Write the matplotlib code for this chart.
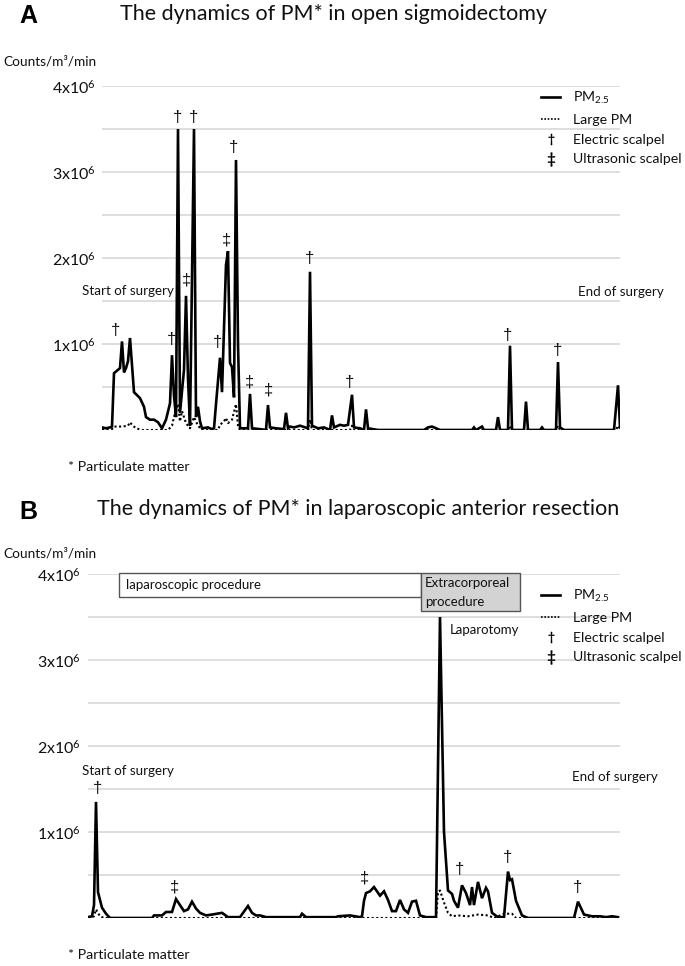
import matplotlib
matplotlib.use('Agg')
import matplotlib.pyplot as plt
import numpy as np
from matplotlib.lines import Line2D
from matplotlib.patches import Rectangle

plt.rcParams['font.family'] = ['Lato', 'DejaVu Sans']
plt.rcParams['mathtext.default'] = 'regular'

# ---------------- Panel A : open sigmoidectomy (values in 10^6 counts/m3/min) ----------------
a_pm25_t = [0, 2, 4, 5, 6, 8, 9, 10, 11, 12, 13, 14, 16, 19, 21, 22, 24, 26, 28, 30,
            32, 34, 35, 36, 37, 38, 39, 41, 42, 43, 44, 46, 47, 48, 49, 50, 53, 55,
            56, 57, 59, 60, 62, 63, 64, 65, 66, 67, 68, 69, 73, 74, 75, 79, 82, 83,
            84, 87, 91, 92, 93, 94, 96, 99, 103, 104, 105, 108, 111, 114, 115, 116,
            119, 121, 123, 125, 126, 129, 131, 132, 133, 138, 161, 163, 165, 167,
            169, 185, 186, 187, 190, 191, 197, 198, 199, 203, 204, 205, 211, 212,
            213, 219, 220, 221, 227, 228, 229, 231, 256, 258, 259]
a_pm25_v = [0.03, 0.02, 0.03, 0.04, 0.66, 0.70, 0.72, 1.03, 0.67, 0.72, 0.80, 1.07,
            0.44, 0.37, 0.27, 0.15, 0.12, 0.12, 0.09, 0.02, 0.12, 0.31, 0.87, 0.40,
            0.15, 3.50, 0.20, 0.70, 1.56, 0.60, 0.05, 3.50, 0.15, 0.27, 0.10, 0.02,
            0.03, 0.01, 0.02, 0.30, 0.84, 0.44, 1.92, 2.08, 0.78, 0.73, 0.38, 3.14,
            1.00, 0.02, 0.02, 0.42, 0.02, 0.01, 0.00, 0.29, 0.03, 0.02, 0.01, 0.20,
            0.02, 0.04, 0.03, 0.05, 0.02, 1.84, 0.05, 0.02, 0.03, 0.00, 0.17, 0.03,
            0.06, 0.05, 0.06, 0.41, 0.03, 0.02, 0.00, 0.24, 0.02, 0.00, 0.00, 0.03,
            0.04, 0.02, 0.00, 0.00, 0.03, 0.00, 0.04, 0.00, 0.00, 0.15, 0.00, 0.00,
            0.98, 0.00, 0.00, 0.33, 0.00, 0.00, 0.03, 0.00, 0.00, 0.79, 0.03, 0.00,
            0.00, 0.52, 0.03]

a_large_t = [0, 5, 6, 10, 13, 14, 15, 17, 20, 33, 35, 37, 38, 39, 40, 42, 44, 46, 47,
             48, 50, 58, 59, 61, 62, 63, 65, 67, 68, 69, 103, 104, 105, 124, 125, 126,
             203, 204, 205, 227, 228, 229, 257, 258, 259]
a_large_v = [0.01, 0.01, 0.04, 0.04, 0.05, 0.09, 0.06, 0.02, 0.00, 0.00, 0.05, 0.25,
             0.30, 0.10, 0.22, 0.08, 0.02, 0.15, 0.10, 0.05, 0.00, 0.00, 0.06, 0.10,
             0.14, 0.08, 0.12, 0.30, 0.05, 0.00, 0.00, 0.12, 0.00, 0.00, 0.05, 0.00,
             0.00, 0.05, 0.00, 0.00, 0.05, 0.00, 0.00, 0.05, 0.02]

# scalpel marks (time, symbol, label height)
a_mark_t = [7, 35, 37.5, 45.5, 42, 62, 57.5, 66, 73.5, 83, 103.5, 124, 203, 227.5]
a_mark_s = ['†', '†', '†', '†', '‡', '‡', '†', '†', '‡', '‡', '†', '†', '†', '†']
a_mark_y = [1.16, 1.05, 3.63, 3.63, 1.74, 2.21, 1.02, 3.28, 0.56, 0.47, 1.99, 0.55, 1.10, 0.93]

# ---------------- Panel B : laparoscopic anterior resection ----------------
b_pm25_t = [0, 2, 3, 4, 5, 7, 9, 11, 32, 33, 37, 39, 42, 44, 48, 50, 52, 54, 56, 59,
            62, 67, 70, 76, 80, 82, 84, 86, 89, 106, 107, 109, 124, 125, 131, 136, 137,
            138, 139, 141, 143, 146, 148, 150, 152, 154, 156, 158, 160, 162, 164, 166,
            169, 174, 176, 178, 180, 182, 183, 185, 187, 189, 191, 192, 193, 195, 197,
            199, 200, 202, 205, 208, 210, 211, 212, 214, 217, 220, 243, 245, 248, 252,
            256, 259, 262, 265]
b_pm25_v = [0.01, 0.02, 0.15, 1.35, 0.30, 0.12, 0.05, 0.00, 0.00, 0.03, 0.03, 0.07,
            0.07, 0.22, 0.08, 0.10, 0.19, 0.11, 0.06, 0.03, 0.04, 0.06, 0.01, 0.01,
            0.14, 0.06, 0.03, 0.03, 0.01, 0.01, 0.05, 0.01, 0.01, 0.02, 0.03, 0.01,
            0.02, 0.20, 0.29, 0.31, 0.36, 0.26, 0.31, 0.21, 0.08, 0.08, 0.21, 0.10,
            0.06, 0.19, 0.20, 0.03, 0.01, 0.01, 3.50, 1.00, 0.32, 0.28, 0.20, 0.12,
            0.38, 0.29, 0.15, 0.36, 0.15, 0.42, 0.23, 0.35, 0.31, 0.06, 0.01, 0.01,
            0.54, 0.44, 0.45, 0.20, 0.03, 0.00, 0.00, 0.19, 0.04, 0.02, 0.02, 0.01,
            0.02, 0.01]

b_large_t = [0, 3, 4, 5, 6, 8, 174, 175, 176, 178, 180, 182, 185, 190, 195, 200, 203,
             208, 212, 214, 265]
b_large_v = [0.00, 0.02, 0.10, 0.06, 0.02, 0.00, 0.00, 0.30, 0.32, 0.18, 0.06, 0.02,
             0.03, 0.02, 0.04, 0.03, 0.00, 0.05, 0.05, 0.00, 0.00]

b_mark_t = [4.5, 43, 138, 186, 209.5, 244.5]
b_mark_s = ['†', '‡', '‡', '†', '†', '†']
b_mark_y = [1.50, 0.36, 0.47, 0.56, 0.70, 0.36]

y_ticks = [1, 2, 3, 4]
y_tick_labels = ['1x10$^6$', '2x10$^6$', '3x10$^6$', '4x10$^6$']
legend_labels = ['PM$_{2.5}$', 'Large PM', 'Electric scalpel', 'Ultrasonic scalpel']

W, H = 685, 966
fig = plt.figure(figsize=(W / 100, H / 100), dpi=100)


def fx(px):
    return px / W


def fy(py):
    return 1 - py / H


TXT = '#111111'
GRID = '#d4d4d4'
MARKFONT = ['Liberation Sans', 'DejaVu Sans']


def setup_axes(ax, tmax, pad):
    ax.set_xlim(0, tmax)
    ax.set_ylim(0, 4)
    ax.set_yticks(y_ticks)
    ax.set_yticklabels(y_tick_labels, fontsize=11.5, color=TXT)
    ax.set_yticks(np.arange(0.5, 4.01, 0.5), minor=True)
    ax.yaxis.grid(True, which='both', color=GRID, linewidth=1.1)
    ax.set_axisbelow(True)
    ax.tick_params(axis='y', which='both', length=0, pad=pad)
    ax.set_xticks([])
    for s in ax.spines.values():
        s.set_visible(False)


def draw_series(ax, t1, v1, t2, v2):
    ax.plot(t1, v1, color='black', lw=1.9, solid_joinstyle='miter', zorder=3)
    ax.plot(t2, v2, color='black', lw=1.5, linestyle=(0, (1, 1.2)), zorder=2)


def legend(ax, x, y):
    handles = [Line2D([], [], color='black', lw=1.9),
               Line2D([], [], color='black', lw=1.2, linestyle=(0, (1, 1))),
               Line2D([], [], color='black', marker=r'$\dagger$', markersize=8,
                      markeredgewidth=0.3, linestyle='None'),
               Line2D([], [], color='black', marker=r'$\ddagger$', markersize=10,
                      markeredgewidth=0.3, linestyle='None')]
    fig.legend(handles, legend_labels, loc='upper left', bbox_to_anchor=(fx(x), fy(y)),
               frameon=False, borderpad=0, borderaxespad=0, fontsize=10.2,
               handlelength=1.35, handletextpad=0.9, labelspacing=0.55, labelcolor=TXT)


# ---------- Panel A ----------
axA = fig.add_axes([fx(102), fy(430), fx(620) - fx(102), fy(86) - fy(430)])
setup_axes(axA, 259, 4)
draw_series(axA, a_pm25_t, a_pm25_v, a_large_t, a_large_v)
for t, s, y in zip(a_mark_t, a_mark_s, a_mark_y):
    axA.text(t, y, s, ha='center', va='center', fontsize=12, color=TXT,
             family=MARKFONT, clip_on=False)
axA.text(-10, 1.62, 'Start of surgery', fontsize=9.6, color=TXT, va='center', ha='left', clip_on=False)
axA.text(238, 1.60, 'End of surgery', fontsize=9.6, color=TXT, va='center', ha='left', clip_on=False)
legend(axA, 541, 90)

fig.text(fx(19), fy(23), 'A', fontsize=18, fontweight='bold', family='Liberation Sans', va='baseline')
fig.text(fx(334), fy(14), 'The dynamics of PM* in open sigmoidectomy', fontsize=15.5,
         color=TXT, ha='center', va='center')
fig.text(fx(3), fy(62), 'Counts/m³/min', fontsize=9.8, color=TXT, va='center')
fig.text(fx(68), fy(467), '* Particulate matter', fontsize=10.2, color=TXT, va='center')

# ---------- Panel B ----------
axB = fig.add_axes([fx(88), fy(918), fx(620) - fx(88), fy(574) - fy(918)])
setup_axes(axB, 266, 5)
draw_series(axB, b_pm25_t, b_pm25_v, b_large_t, b_large_v)
axB.add_patch(Rectangle((15.5, 3.73), 151, 0.28, facecolor='white', edgecolor='#555555',
                        lw=1.0, zorder=4, clip_on=False))
axB.add_patch(Rectangle((166.5, 3.57), 49.5, 0.44, facecolor='#d3d3d3', edgecolor='#555555',
                        lw=1.0, zorder=4, clip_on=False))
axB.text(19, 3.87, 'laparoscopic procedure', fontsize=9.5, color=TXT, va='center', zorder=5)
axB.text(168.5, 3.90, 'Extracorporeal', fontsize=9.5, color=TXT, va='center', zorder=5)
axB.text(168.5, 3.67, 'procedure', fontsize=9.5, color=TXT, va='center', zorder=5)
for t, s, y in zip(b_mark_t, b_mark_s, b_mark_y):
    axB.text(t, y, s, ha='center', va='center', fontsize=12, color=TXT,
             family=MARKFONT, clip_on=False)
axB.text(-3, 1.71, 'Start of surgery', fontsize=9.6, color=TXT, va='center', ha='left', clip_on=False)
axB.text(242, 1.64, 'End of surgery', fontsize=9.6, color=TXT, va='center', ha='left', clip_on=False)
axB.text(181, 3.35, 'Laparotomy', fontsize=9.5, color=TXT, va='center', ha='left')
legend(axB, 541, 588)

fig.text(fx(19), fy(519), 'B', fontsize=18, fontweight='bold', family='Liberation Sans', va='baseline')
fig.text(fx(358), fy(509), 'The dynamics of PM* in laparoscopic anterior resection', fontsize=15.5,
         color=TXT, ha='center', va='center')
fig.text(fx(3), fy(553), 'Counts/m³/min', fontsize=9.8, color=TXT, va='center')
fig.text(fx(68), fy(955), '* Particulate matter', fontsize=10.2, color=TXT, va='center')

fig.savefig('out.png', dpi=100, facecolor='white')
